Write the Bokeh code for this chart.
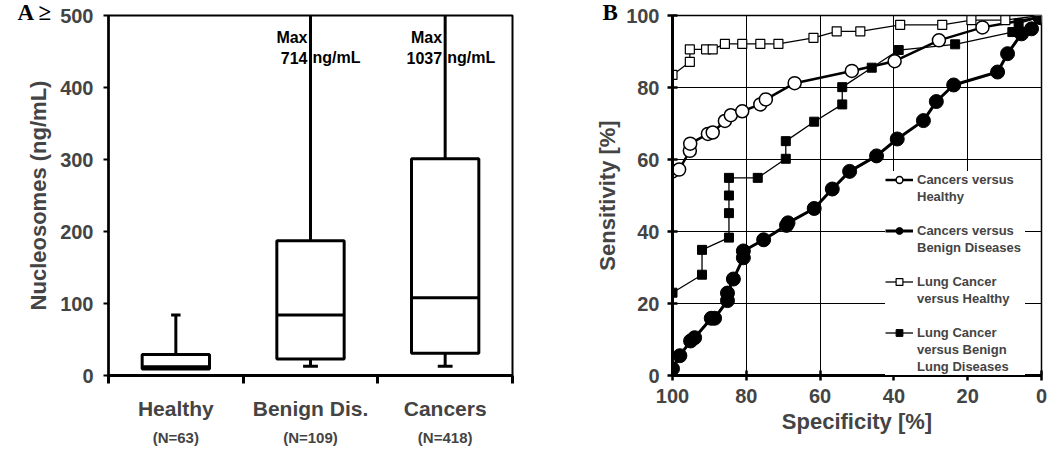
from bokeh.plotting import figure
from bokeh.models import (Range1d, LinearAxis, FixedTicker, Title,
                          Legend, LegendItem, ColumnDataSource)
from bokeh.layouts import row
from bokeh.core.properties import value
from bokeh.embed import file_html
from bokeh.resources import INLINE

# ---------------- Panel A data ----------------
groups = ["Healthy", "Benign Dis.", "Cancers"]
group_n = ["(N=63)", "(N=109)", "(N=418)"]
q_low = [9, 13, 13]
q1 = [9, 23, 31]
q_med = [12, 84, 108]
q3 = [29, 187, 301]
q_high = [84, 714, 1037]
max_note = ["", "714", "1037"]
y_ticks_a = [0, 100, 200, 300, 400, 500]

# ---------------- Panel B data ----------------
ch_spec = [100, 98.2, 95.3, 95.2, 90.4, 89.1, 85.8, 84.2, 81.1, 76.2, 74.7, 66.9, 51.4, 39.8, 27.8, 16.0, 0.5]
ch_sens = [56.7, 57.2, 62.4, 64.4, 67.1, 67.5, 70.7, 72.3, 73.4, 75.3, 76.7, 81.2, 84.6, 87.3, 93.1, 96.7, 99.5]

cb_spec = [100, 98.0, 95.1, 94.0, 89.5, 88.6, 85.1, 85.1, 83.5, 80.8, 80.8, 75.3, 69.1, 68.7, 61.6, 56.7,
           52.0, 44.7, 39.1, 32.0, 28.5, 23.8, 11.9, 9.2, 5.4, 2.7, 0.3]
cb_sens = [1.9, 5.5, 9.6, 10.5, 15.9, 15.9, 20.8, 22.9, 26.8, 32.7, 34.6, 37.7, 41.7, 42.4, 46.4, 51.8,
           56.7, 61.0, 65.7, 70.8, 76.1, 80.7, 84.3, 89.4, 94.9, 96.3, 99.4]

lh_spec = [100, 95.3, 95.3, 90.9, 89.1, 85.8, 81.1, 76.2, 71.3, 61.8, 55.5, 49.1, 38.3, 26.9, 19.0, 9.8, 0.5]
lh_sens = [83.5, 87.1, 90.6, 90.6, 90.6, 92.1, 92.1, 92.1, 92.1, 93.8, 95.6, 95.6, 97.4, 97.4, 98.7, 98.7, 100]

lb_spec = [100, 92.0, 92.0, 84.7, 84.7, 84.7, 84.7, 76.9, 69.3, 69.3, 61.6, 54.0, 54.0, 46.0, 38.7, 23.4,
           7.9, 6.2, 0.5]
lb_sens = [23.0, 28.0, 34.9, 38.3, 45.1, 50.0, 54.9, 54.9, 60.2, 65.1, 70.5, 75.3, 80.1, 85.5, 90.4, 92.0,
           95.4, 97.8, 99.5]
b_ticks = [0, 20, 40, 60, 80, 100]

# legend text: first line goes with the series symbol, following lines are continuation rows
legend_lines = [
    ["Cancers versus", "Healthy"],
    ["Cancers versus", "Benign Diseases"],
    ["Lung Cancer", "versus Healthy"],
    ["Lung Cancer", "versus Benign", "Lung Diseases"],
]

SANS = "Liberation Sans"
SERIF = "Liberation Serif"


def panel_letter(text, offset):
    kw = dict(text=text, align="left", offset=offset, text_font=SERIF,
              text_font_style="bold", text_font_size="23px", text_color="black",
              vertical_align="bottom")
    try:
        return Title(standoff=-19, **kw)
    except Exception:
        return Title(standoff=0, **kw)


# =============== Panel A =================
ng = len(groups)
xc = [i + 0.5 for i in range(ng)]          # category centres on a numeric scale
pa = figure(width=552, height=448, output_backend="svg", toolbar_location=None,
            x_range=Range1d(0, ng), y_range=Range1d(0, 500),
            x_axis_location=None, min_border_left=108, min_border_right=40,
            min_border_top=15, min_border_bottom=64)
pa.outline_line_color = "black"
pa.outline_line_width = 2
pa.grid.visible = False

ya = pa.yaxis[0]
ya.ticker = FixedTicker(ticks=y_ticks_a)
ya.minor_tick_line_color = None
ya.major_tick_in = 0
ya.major_tick_out = 5
ya.major_tick_line_width = 2
ya.axis_line_width = 2.5
ya.major_label_standoff = 10
ya.major_label_text_font = SANS
ya.major_label_text_font_style = "bold"
ya.major_label_text_font_size = "20px"
ya.axis_label = "Nucleosomes (ng/mL)"
ya.axis_label_text_font = SANS
ya.axis_label_text_font_style = "bold"
ya.axis_label_text_font_size = "22px"
ya.axis_label_standoff = 6

ax_names = LinearAxis(ticker=FixedTicker(ticks=xc, minor_ticks=list(range(ng + 1))),
                      axis_line_width=3, major_tick_in=0, major_tick_out=0,
                      minor_tick_in=0, minor_tick_out=8, minor_tick_line_width=3,
                      major_label_overrides={c: g for c, g in zip(xc, groups)},
                      major_label_standoff=13, major_label_text_font=SANS,
                      major_label_text_font_style="bold", major_label_text_font_size="21px")
pa.add_layout(ax_names, "below")
ax_n = LinearAxis(ticker=FixedTicker(ticks=xc), axis_line_color=None,
                  major_tick_line_color=None, minor_tick_line_color=None,
                  major_label_overrides={c: n for c, n in zip(xc, group_n)},
                  major_label_standoff=0, major_label_text_font=SANS,
                  major_label_text_font_style="bold", major_label_text_font_size="15px")
pa.add_layout(ax_n, "below")

src_a = ColumnDataSource(dict(
    x=xc, lo=q_low, q1=q1, med=q_med, q3=q3, hi=q_high,
    ml=[c - 0.25 for c in xc], mr=[c + 0.25 for c in xc],
))
# whiskers
pa.segment(x0="x", y0="q3", x1="x", y1="hi", source=src_a, line_color="black", line_width=3)
pa.segment(x0="x", y0="lo", x1="x", y1="q1", source=src_a, line_color="black", line_width=3)
# caps
up_caps = [i for i, h in enumerate(q_high) if h <= 500]
pa.segment(x0=[xc[i] - 0.035 for i in up_caps], y0=[q_high[i] for i in up_caps],
           x1=[xc[i] + 0.035 for i in up_caps], y1=[q_high[i] for i in up_caps],
           line_color="black", line_width=3)
lo_caps = [i for i, l in enumerate(q_low) if l < q1[i]]
pa.segment(x0=[xc[i] - 0.055 for i in lo_caps], y0=[q_low[i] for i in lo_caps],
           x1=[xc[i] + 0.055 for i in lo_caps], y1=[q_low[i] for i in lo_caps],
           line_color="black", line_width=3)
# boxes
pa.vbar(x="x", width=0.5, bottom="q1", top="q3", source=src_a, fill_color="white",
        line_color="black", line_width=3)
pa.segment(x0="ml", y0="med", x1="mr", y1="med", source=src_a, line_color="black", line_width=3)

# Max annotations
over = [i for i, h in enumerate(q_high) if h > 500]
txt_kw = dict(text_baseline="alphabetic", text_font=value(SANS), text_font_style="bold",
              text_font_size="16px", text_color="black")
pa.text(x=[xc[i] for i in over], y=[500] * len(over), text=["Max"] * len(over),
        x_offset=-3, y_offset=22, text_align="right", **txt_kw)
pa.text(x=[xc[i] for i in over], y=[500] * len(over), text=[max_note[i] for i in over],
        x_offset=-3, y_offset=42, text_align="right", **txt_kw)
pa.text(x=[xc[i] for i in over], y=[500] * len(over), text=["ng/mL"] * len(over),
        x_offset=2, y_offset=42, text_align="left", **txt_kw)

pa.add_layout(panel_letter("A  \u2265", -91), "above")

# =============== Panel B =================
pb = figure(width=496, height=448, output_backend="svg", toolbar_location=None,
            x_range=Range1d(100, 0), y_range=Range1d(0, 100),
            min_border_left=120, min_border_right=7, min_border_top=14, min_border_bottom=62)
pb.outline_line_color = "black"
pb.outline_line_width = 1.5
for ax in (pb.xaxis[0], pb.yaxis[0]):
    ax.ticker = FixedTicker(ticks=b_ticks)
    ax.minor_tick_line_color = None
    ax.major_tick_in = 5
    ax.major_tick_out = 5
    ax.major_tick_line_width = 2.5
    ax.axis_line_width = 3
    ax.major_label_text_font = SANS
    ax.major_label_text_font_style = "bold"
    ax.major_label_text_font_size = "20px"
    ax.axis_label_text_font = SANS
    ax.axis_label_text_font_style = "bold"
    ax.axis_label_text_font_size = "22px"
pb.xaxis[0].axis_label = "Specificity [%]"
pb.xaxis[0].major_label_standoff = 8
pb.xaxis[0].axis_label_standoff = 3
pb.yaxis[0].axis_label = "Sensitivity [%]"
pb.yaxis[0].major_label_standoff = 8
pb.yaxis[0].axis_label_standoff = 3
pb.xgrid.ticker = FixedTicker(ticks=b_ticks)
pb.ygrid.ticker = FixedTicker(ticks=b_ticks)
pb.grid.grid_line_color = "black"
pb.grid.grid_line_width = 1
pb.grid.grid_line_alpha = 1

l_ch = pb.line(ch_spec, ch_sens, line_color="black", line_width=2.5)
l_cb = pb.line(cb_spec, cb_sens, line_color="black", line_width=3)
l_lh = pb.line(lh_spec, lh_sens, line_color="black", line_width=1.3)
l_lb = pb.line(lb_spec, lb_sens, line_color="black", line_width=1.3)
m_lh = pb.scatter(lh_spec, lh_sens, marker="square", size=9, fill_color="white", line_color="black", line_width=1.2)
m_lb = pb.scatter(lb_spec, lb_sens, marker="square", size=9, fill_color="black", line_color="black")
m_ch = pb.scatter(ch_spec, ch_sens, marker="circle", size=13, fill_color="white", line_color="black", line_width=1.5)
m_cb = pb.scatter(cb_spec, cb_sens, marker="circle", size=14, fill_color="black", line_color="black")
ghost = pb.line(x=[], y=[], line_alpha=0)   # invisible symbol for continuation rows

series_renderers = [[l_ch, m_ch], [l_cb, m_cb], [l_lh, m_lh], [l_lb, m_lb]]
items = []
for k, (lines, rends) in enumerate(zip(legend_lines, series_renderers)):
    items.append(LegendItem(label=lines[0], renderers=rends))
    for t in lines[1:]:
        items.append(LegendItem(label=t, renderers=[ghost]))
    if k < len(legend_lines) - 1:
        items.append(LegendItem(label="\u00a0", renderers=[ghost]))

legend = Legend(items=items, location=(213, 0), background_fill_color="white", background_fill_alpha=1,
                border_line_color=None, padding=5, spacing=0, margin=0,
                glyph_width=28, glyph_height=17, label_height=17, label_standoff=4, label_width=108,
                label_text_font=SANS, label_text_font_style="bold", label_text_font_size="13px")
pb.add_layout(legend, "center")

pb.add_layout(panel_letter("B", -70), "above")

layout = row(pa, pb)
open("out.html", "w").write(file_html(layout, INLINE))
